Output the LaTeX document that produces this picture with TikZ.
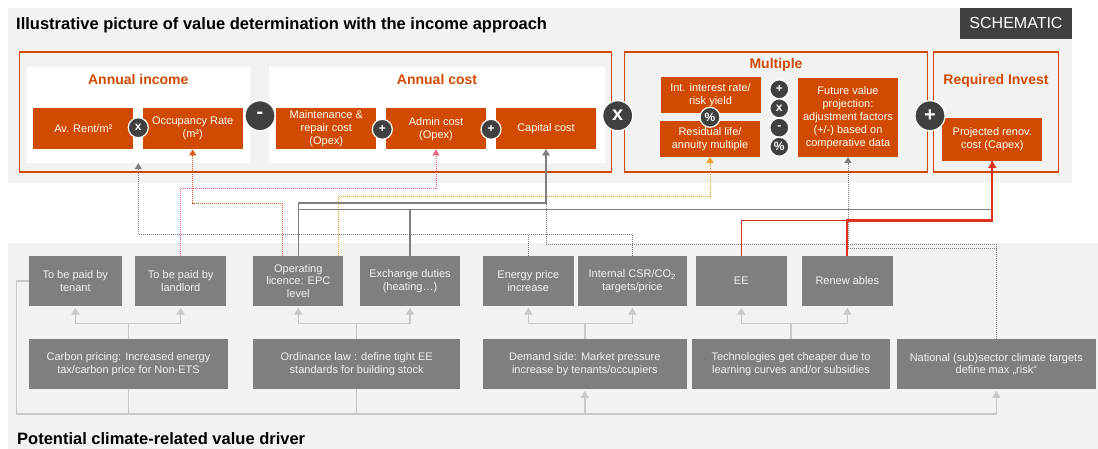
\documentclass[tikz,border=0pt]{standalone}
\usepackage{fontspec}
\setmainfont{Liberation Sans}
\usetikzlibrary{arrows.meta}
\definecolor{pwOrange}{HTML}{D04A02}
\definecolor{panelGray}{HTML}{F2F2F2}
\definecolor{drvGray}{HTML}{7F7F7F}
\definecolor{opDark}{HTML}{404040}
\definecolor{lineGray}{HTML}{7F7F7F}
\definecolor{lightLine}{HTML}{C8C8C8}
\definecolor{redLine}{HTML}{E0301E}
\definecolor{pinkLine}{HTML}{E8607F}
\definecolor{orangeLine}{HTML}{D85C20}
\definecolor{amberLine}{HTML}{F0A020}

\begin{document}
\begin{tikzpicture}[x=1pt,y=-1pt,
	obox/.style={fill=pwOrange,text=white,align=center,inner sep=0pt,minimum width=100pt,minimum height=41pt,font=\fontsize{11}{13}\selectfont},
	gbox/.style={fill=drvGray,text=panelGray,align=center,inner sep=0pt,minimum height=50pt,font=\fontsize{11}{12.8}\selectfont},
	wpanel/.style={fill=white,inner sep=0pt,minimum height=96pt},
	frame/.style={draw=pwOrange,line width=1.2pt},
	stitle/.style={text=pwOrange,anchor=base,inner sep=0pt,font=\bfseries\fontsize{14}{14}\selectfont},
	ttl/.style={anchor=base west,inner sep=0pt,font=\bfseries\fontsize{16.5}{16.5}\selectfont},
	opc/.style={circle,fill=opDark,draw=white,line width=1.2pt,text=white,inner sep=0pt,minimum size=20pt,font=\bfseries\fontsize{12}{12}\selectfont},
	opbig/.style={opc,minimum size=30pt,font=\bfseries\fontsize{20}{20}\selectfont},
	tip/.style={-{Triangle[width=7pt,length=6pt]}},
	lgline/.style={draw=lightLine,line width=1.5pt},
	lgarrow/.style={lgline,-{Triangle[width=8pt,length=7pt]},shorten >=1.5pt},
	gdot/.style={draw=lineGray,line width=1pt,dash pattern=on 1pt off 1pt},
	gsolid/.style={draw=lineGray,line width=1.2pt},
	pdot/.style={draw=pinkLine,line width=1pt,dash pattern=on 1pt off 1pt},
	odot/.style={draw=orangeLine,line width=1pt,dash pattern=on 1pt off 1pt},
	adot/.style={draw=amberLine,line width=1pt,dash pattern=on 1pt off 1pt},
	redl/.style={draw=redLine,line width=1.5pt}]
	\useasboundingbox (0,0) rectangle (1098,449);
	% panels
	\fill[panelGray] (8,8) rectangle (1072,182.7);
	\fill[panelGray] (8,243.3) rectangle (1098,449);
	\node[fill=opDark,text=white,inner sep=0pt,minimum width=112pt,minimum height=30.7pt,font=\fontsize{16}{16}\selectfont] (schem) at (1016,23.3) {SCHEMATIC};
	\node[ttl] (ttlTop) at (16,29.3) {Illustrative picture of value determination with the income approach};
	\node[ttl] (ttlBot) at (17,444) {Potential climate-related value driver};
	\draw[frame] (19.3,52) rectangle (611.7,172);
	\draw[frame] (624.3,52) rectangle (927.3,172);
	\draw[frame] (933.3,52) rectangle (1058.3,172);
	\node[wpanel,minimum width=223.3pt] (incomeP) at (138.3,115) {};
	\node[wpanel,minimum width=336.3pt] (costP) at (436.8,115) {};
	\node[stitle] (incT) at (138.3,85) {Annual income};
	\node[stitle] (costT) at (437,85) {Annual cost};
	\node[stitle] (multT) at (776,68.3) {Multiple};
	\node[stitle] (invT) at (996,85) {Required Invest};
	% value formula
	\node[obox] (rent) at (83.3,128.7) {Av. Rent/m²};
	\node[obox] (occ) at (192.7,128.7) {Occupancy Rate\\(m²)};
	\node[obox] (maint) at (326.3,128.7) {Maintenance \&\\repair cost\\(Opex)};
	\node[obox] (admin) at (436,128.7) {Admin cost\\(Opex)};
	\node[obox] (capital) at (546,128.7) {Capital cost};
	\node[obox,minimum height=36pt] (rate) at (710.5,94.8) {Int. interest rate/\\risk yield};
	\node[obox,minimum height=36pt] (resid) at (710,138.7) {Residual life/\\annuity multiple};
	\node[obox,minimum height=79pt] (future) at (848,117.3) {Future value\\projection:\\adjustment factors\\(+/-) based on\\comperative data};
	\node[obox,minimum height=43pt] (capex) at (992.3,139.3) {Projected renov.\\cost (Capex)};
	\node[opc] (opTimesA) at (138.3,127.7) {x};
	\node[opbig] (opMinus) at (260,115.7) {-};
	\node[opc] (opPlusA) at (382.3,129.3) {+};
	\node[opc] (opPlusB) at (491,129.3) {+};
	\node[opbig] (opTimesB) at (617.7,115.7) {x};
	\node[opc] (opPct) at (710,117.3) {\%};
	\node[opc,minimum size=19pt] (opColA) at (779.3,89.3) {+};
	\node[opc,minimum size=19pt] (opColB) at (779.3,108.3) {x};
	\node[opc,minimum size=19pt] (opColC) at (779.3,127.7) {-};
	\node[opc,minimum size=19pt] (opColD) at (779.3,146.7) {\%};
	\node[opbig] (opPlusC) at (930,115.7) {+};
	% value drivers
	\node[gbox,minimum width=92.7pt] (tenant) at (75.3,281) {To be paid by\\tenant};
	\node[gbox,minimum width=90.7pt] (landlord) at (180.7,281) {To be paid by\\landlord};
	\node[gbox,minimum width=90pt] (epc) at (298.3,281) {Operating\\licence: EPC\\level};
	\node[gbox,minimum width=100pt] (duties) at (410,281) {Exchange duties\\(heating…)};
	\node[gbox,minimum width=90.7pt] (energy) at (528.3,281) {Energy price\\increase};
	\node[gbox,minimum width=108.7pt] (csr) at (632.3,281) {Internal CSR/CO\textsubscript{2}\\targets/price};
	\node[gbox,minimum width=90.7pt] (ee) at (741.3,281) {EE};
	\node[gbox,minimum width=90.7pt] (renew) at (847.3,281) {Renew ables};
	\node[gbox,minimum width=199pt] (carbon) at (128.5,364.2) {Carbon pricing: Increased energy\\tax/carbon price for Non-ETS};
	\node[gbox,minimum width=206.7pt] (ordinance) at (356.7,364.2) {Ordinance law : define tight EE\\standards for building stock};
	\node[gbox,minimum width=203.7pt] (demand) at (584.8,364.2) {Demand side: Market pressure\\increase by tenants/occupiers};
	\node[gbox,minimum width=198pt] (tech) at (791,364.2) {Technologies get cheaper due to\\learning curves and/or subsidies};
	\node[gbox,minimum width=199.3pt] (national) at (996.3,364.2) {National (sub)sector climate targets\\define max „risk“};
	% driver tree
	\foreach \src/\dst in {carbon/tenant,carbon/landlord,ordinance/epc,ordinance/duties,demand/energy,demand/csr,tech/ee,tech/renew}
		{\draw[lgarrow] (\src.north) -- ++(0,-15.7) -| (\dst.south);}
	\coordinate (busL) at (16.7,414);
	\draw[lgarrow] (tenant.west) -| (busL) -| (national.south);
	\draw[lgline] (carbon.south) -- (carbon.south |- busL);
	\draw[lgline] (ordinance.south) -- (ordinance.south |- busL);
	\draw[lgarrow] (demand.south |- busL) -- (demand.south);
	% links to the formula
	\draw[gdot,tip] (csr.north) -- ++(0,-21.3) -| (incomeP.south);
	\draw[gdot] (energy.north) -- ++(0,-21.3);
	\draw[gdot,tip] (national.north) -- ++(0,-94.7) -| (capital.south);
	\draw[gdot,tip] (national.north) -- ++(0,-90.3) -| (future.south);
	\draw[pdot,tip] (landlord.north) -- ++(0,-67.7) -| (admin.south);
	\draw[odot,tip] ([xshift=-16pt]epc.north) -- ++(0,-52.7) -| (occ.south);
	\draw[adot,tip] ([xshift=40.4pt]epc.north) -- ++(0,-59.3) -| (resid.south);
	\coordinate (gJoin) at (992.3,209.3);
	\draw[gsolid,tip] (epc.north) -- ++(0,-52.7) -| (capital.south);
	\draw[gsolid] (epc.north) |- (gJoin);
	\draw[gsolid] (duties.north) -- (duties.north |- gJoin);
	\draw[redl,line width=2.2pt] (renew.north) -- ++(0,-35.3) -| (capex.south);
	\draw[redl,-{Triangle[width=8pt,length=7pt]}] (ee.north) -- ++(0,-35.3) -| (capex.south);
\end{tikzpicture}
\end{document}
